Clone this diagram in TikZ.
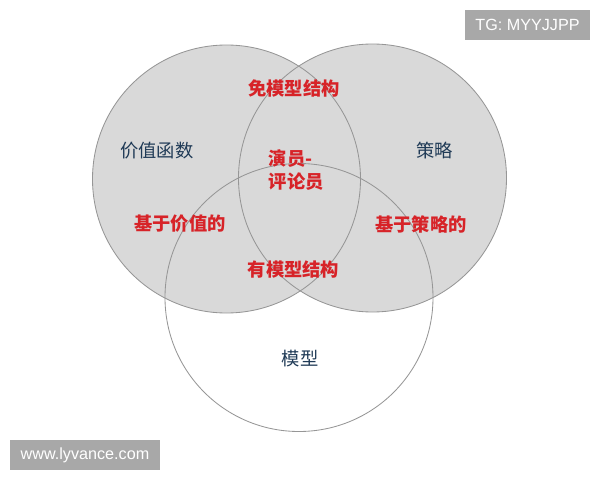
\documentclass[tikz,border=0pt]{standalone}
\usepackage{fontspec}
\usepackage{xcolor}
\usepackage{tikz}
\setmainfont{Liberation Sans}
\newfontfamily\cjk{Noto Sans CJK SC}
\definecolor{ringgray}{RGB}{150,150,150}
\definecolor{fillgray}{RGB}{217,217,217}
\definecolor{labelblue}{RGB}{31,58,86}
\definecolor{labelred}{RGB}{215,35,40}
\definecolor{markgray}{RGB}{168,168,168}

\begin{document}
\begin{tikzpicture}[x=0.025cm, y=-0.025cm,
    ring/.style = {draw=ringgray, line width=0.6pt},
    setlabel/.style = {font=\cjk\fontsize{13}{16}\selectfont, text=labelblue},
    partlabel/.style = {font=\cjk\bfseries\fontsize{13}{16}\selectfont, text=labelred, align=left},
    watermark/.style = {fill=markgray, text=white, font=\fontsize{11.5}{13}\selectfont, inner xsep=0pt, minimum height=0.75cm}]
    \useasboundingbox (0,0) rectangle (600,480);
    % Centres of the three sets
    \coordinate (vcenter) at (226.5,179);
    \coordinate (pcenter) at (372.5,178);
    \coordinate (mcenter) at (299,297.5);
    % Fill the two upper sets
    \fill[fillgray] (vcenter) circle (134);
    \fill[fillgray] (pcenter) circle (134);
    % Draw the outlines
    \draw[ring] (vcenter) circle (134);
    \draw[ring] (pcenter) circle (134);
    \draw[ring] (mcenter) circle (134);
    % Set names
    \node[setlabel] (value) at (157,151) {价值函数};
    \node[setlabel] (policy) at (434.5,151) {策略};
    \node[setlabel] (model) at (300,359) {模型};
    % Regions
    \node[partlabel] (modelfree) at (294,89) {免模型结构};
    \node[partlabel, anchor=west] (actorcritic) at (264,170) {演员-\\评论员};
    \node[partlabel] (valuebased) at (180,224) {基于价值的};
    \node[partlabel] (policybased) at (421,224) {基于策略的};
    \node[partlabel] (modelbased) at (293.5,270) {有模型结构};
    % Watermarks
    \node[watermark, minimum width=3.125cm] (tg) at (527.5,25) {TG: MYYJJPP};
    \node[watermark, minimum width=3.75cm] (site) at (85,455) {www.lyvance.com};
\end{tikzpicture}
\end{document}
